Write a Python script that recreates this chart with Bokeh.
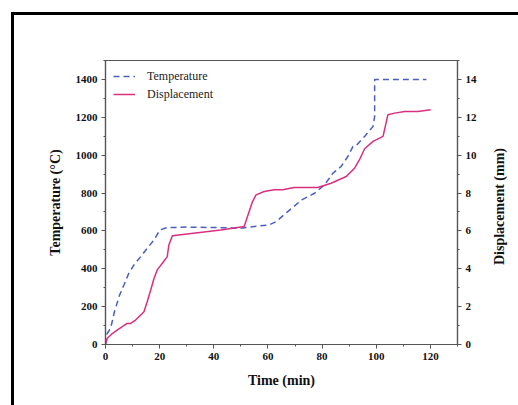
from bokeh.plotting import figure
from bokeh.models import Range1d, LinearAxis, Legend, LegendItem, FixedTicker, Div
from bokeh.layouts import row
from bokeh.embed import file_html
from bokeh.resources import INLINE

# Temperature series (°C) vs time (min)
temp_time = [0, 0.6, 1.9, 3.3, 5.2, 6.8, 8.6, 10.5, 13.0, 15.4, 17.9, 20.1, 22.5, 30, 40, 50, 55, 60.5, 63, 67.3, 72.5, 77.2, 80.9, 84, 87, 89.5, 91.4, 92.6, 95.7, 98.8, 99.4, 99.4, 118.5]
temp_vals = [0, 58, 85, 173, 261, 314, 376, 420, 464, 508, 552, 605, 617, 620, 618, 614, 623, 632, 649, 702, 764, 799, 843, 905, 940, 993, 1046, 1051, 1099, 1152, 1205, 1400, 1400]

# Displacement series (mm) vs time (min)
disp_time = [0, 0.6, 2.5, 4.3, 6.2, 8.0, 9.3, 11.1, 13.6, 14.2, 15.4, 16.7, 17.9, 19.1, 21.0, 22.8, 23.4, 24.7, 42.6, 51.2, 54.3, 55.6, 58.6, 62.3, 65.4, 69.7, 78.4, 83.3, 88.9, 92.0, 93.8, 95.7, 98.8, 102.5, 104.3, 106.8, 110.5, 115.4, 120.1]
disp_vals = [0, 0.32, 0.58, 0.76, 0.94, 1.11, 1.11, 1.29, 1.64, 1.73, 2.26, 2.88, 3.49, 3.94, 4.29, 4.64, 5.26, 5.74, 6.05, 6.23, 7.55, 7.9, 8.08, 8.17, 8.17, 8.29, 8.29, 8.52, 8.87, 9.31, 9.76, 10.34, 10.73, 10.99, 12.14, 12.22, 12.31, 12.31, 12.40]

x_ticks = [0, 20, 40, 60, 80, 100, 120]
temp_ticks = [0, 200, 400, 600, 800, 1000, 1200, 1400]
disp_ticks = [0, 2, 4, 6, 8, 10, 12, 14]

FONT = "Liberation Serif"
AXIS_COLOR = "#555555"
TEMP_COLOR = "#4a5fc1"
DISP_COLOR = "#d8307f"

p = figure(width=468, height=386,
           x_range=Range1d(0, 130), y_range=Range1d(0, 1500),
           output_backend="svg", toolbar_location=None,
           min_border_left=91, min_border_right=25,
           min_border_top=45, min_border_bottom=57,
           background_fill_color="white", border_fill_color="white")

p.grid.visible = False
p.outline_line_color = AXIS_COLOR
p.outline_line_width = 1.2

p.extra_y_ranges = {"disp": Range1d(0, 15)}
right_axis = LinearAxis(y_range_name="disp")
p.add_layout(right_axis, "right")

p.xaxis.ticker = FixedTicker(ticks=x_ticks, minor_ticks=list(range(0, 131, 10)))
p.yaxis[0].ticker = FixedTicker(ticks=temp_ticks, minor_ticks=list(range(0, 1501, 100)))
right_axis.ticker = FixedTicker(ticks=disp_ticks, minor_ticks=list(range(0, 16)))

p.xaxis.axis_label = "Time (min)"
p.yaxis[0].axis_label = "Temperature (\u00b0C)"

for ax in [p.xaxis[0], p.yaxis[0], right_axis]:
    ax.axis_line_color = AXIS_COLOR
    ax.axis_line_width = 1.2
    ax.major_tick_line_color = AXIS_COLOR
    ax.minor_tick_line_color = AXIS_COLOR
    ax.major_tick_in = 0
    ax.major_tick_out = 4
    ax.minor_tick_in = 0
    ax.minor_tick_out = 2
    ax.major_label_text_font = FONT
    ax.major_label_text_font_style = "bold"
    ax.major_label_text_font_size = "11px"
    ax.major_label_text_color = "#111111"
    ax.axis_label_text_font = FONT
    ax.axis_label_text_font_style = "bold"
    ax.axis_label_text_font_size = "14px"
    ax.axis_label_text_color = "#111111"
    ax.major_label_standoff = 4
    ax.axis_label_standoff = 10

r_temp = p.line(temp_time, temp_vals, line_color=TEMP_COLOR, line_width=1.5, line_dash="6 4")
r_disp = p.line(disp_time, disp_vals, line_color=DISP_COLOR, line_width=1.5, y_range_name="disp")

legend = Legend(items=[LegendItem(label="Temperature", renderers=[r_temp]),
                       LegendItem(label="Displacement", renderers=[r_disp])],
                location="top_left")
legend.background_fill_alpha = 0
legend.border_line_color = None
legend.label_text_font = FONT
legend.label_text_font_size = "12px"
legend.label_text_color = "#222222"
legend.glyph_width = 22
legend.glyph_height = 16
legend.label_height = 16
legend.spacing = 2
legend.padding = 4
legend.margin = 8
legend.label_standoff = 12
p.add_layout(legend)

# Right axis title, reading bottom-to-top like the left one
right_title = Div(
    text=("<div style=\"writing-mode: vertical-rl; transform: rotate(180deg); "
          "font-family: 'Liberation Serif'; font-weight: bold; font-size: 14px; "
          "color: #111111; white-space: nowrap;\">Displacement (mm)</div>"),
    width=26, height=386,
    styles={"display": "flex", "align-items": "center", "justify-content": "center",
            "padding-bottom": "12px", "box-sizing": "border-box"},
)

layout = row(p, right_title)
layout.margin = (12, 0, 0, 11)
layout.styles = {"border-top": "3px solid black", "border-left": "3px solid black"}

html = file_html(layout, INLINE)
open("out.html", "w").write(html)
